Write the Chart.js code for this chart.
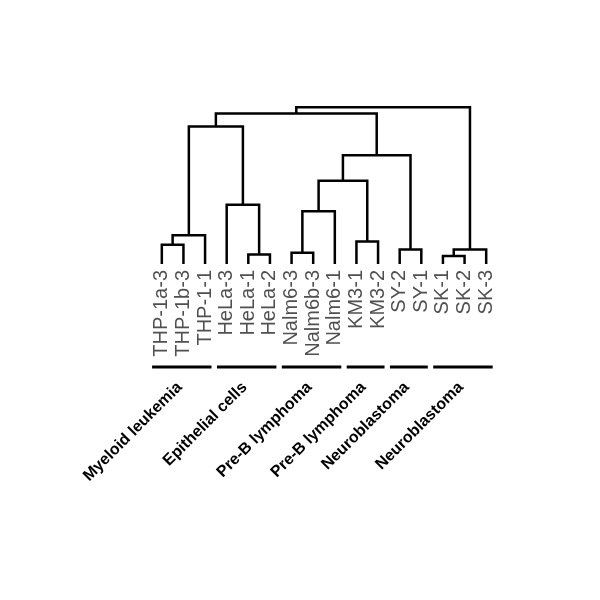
<!DOCTYPE html>
<html>
<head>
<meta charset="utf-8">
<script src="https://cdn.jsdelivr.net/npm/chart.js@4"></script>
<style>
  html, body { margin: 0; padding: 0; background: #fff; }
  canvas { display: block; }
</style>
</head>
<body>
<canvas id="dendro" width="600" height="600"></canvas>
<script>
// leaves, left to right
const leafLabels = ['THP-1a-3','THP-1b-3','THP-1-1','HeLa-3','HeLa-1','HeLa-2',
                    'Nalm6-3','Nalm6b-3','Nalm6-1','KM3-1','KM3-2','SY-2','SY-1',
                    'SK-1','SK-2','SK-3'];

// merges, R hclust style: negative = leaf -(i+1), positive = earlier merge (1-based)
const mergeLeft   = [-14, -5, -7, -12,   1, -1, -10,    6,    3,  -4,    9,   11,    8,   13,   14];
const mergeRight  = [-15, -6, -8, -13, -16, -2, -11,   -3,   -9,   2,    7,    4,   10,   12,    5];
const mergeHeight = [0.05,0.06,0.07,0.09,0.09,0.12,0.14,0.18,0.33,0.37,0.52,0.68,0.86,0.94,0.98];

// sample groups under the tree
const groupLabels = ['Myeloid leukemia','Epithelial cells','Pre-B lymphoma','Pre-B lymphoma','Neuroblastoma','Neuroblastoma'];
const groupStart  = [0, 3, 6,  9, 11, 13];
const groupEnd    = [2, 5, 8, 10, 12, 15];

//─── build segments ─────────────────────────────────────────────────────────
const nodeX = [], nodeH = [];
function pos(ref) {
  return ref < 0 ? { x: -ref - 1, h: 0 } : { x: nodeX[ref - 1], h: nodeH[ref - 1] };
}
const datasets = mergeHeight.map((h, i) => {
  const a = pos(mergeLeft[i]), b = pos(mergeRight[i]);
  nodeX[i] = (a.x + b.x) / 2;
  nodeH[i] = h;
  return {
    data: [{ x: a.x, y: a.h }, { x: a.x, y: h }, { x: b.x, y: h }, { x: b.x, y: b.h }],
    showLine: true,
    borderColor: '#000',
    borderWidth: 2.5,
    borderJoinStyle: 'miter',
    pointRadius: 0,
    clip: false
  };
});

//─── group bars + labels ────────────────────────────────────────────────────
const groupPlugin = {
  id: 'groups',
  afterDraw(chart) {
    const ctx = chart.ctx, xs = chart.scales.x;
    ctx.save();
    groupLabels.forEach((lab, i) => {
      const x0 = xs.getPixelForValue(groupStart[i] - 0.45);
      const x1 = xs.getPixelForValue(groupEnd[i] + 0.3);
      ctx.strokeStyle = '#000';
      ctx.lineWidth = 3;
      ctx.beginPath();
      ctx.moveTo(x0, 367);
      ctx.lineTo(x1, 367);
      ctx.stroke();

      ctx.save();
      ctx.translate((x0 + x1) / 2 + 1, 388);
      ctx.rotate(-Math.PI / 4);
      ctx.font = 'bold 16px "Liberation Sans", Arial, sans-serif';
      ctx.fillStyle = '#000';
      ctx.textAlign = 'right';
      ctx.textBaseline = 'alphabetic';
      ctx.fillText(lab, 0, 0);
      ctx.restore();
    });
    ctx.restore();
  }
};

new Chart(document.getElementById('dendro'), {
  type: 'scatter',
  data: { datasets },
  plugins: [groupPlugin],
  options: {
    responsive: false,
    animation: false,
    layout: { padding: { left: 151, right: 103, top: 104, bottom: 236 } },
    plugins: { legend: { display: false }, tooltip: { enabled: false } },
    scales: {
      x: {
        type: 'linear',
        min: -0.5,
        max: leafLabels.length - 0.5,
        border: { display: false },
        grid: { display: false, drawTicks: false },
        afterBuildTicks: s => { s.ticks = leafLabels.map((_, i) => ({ value: i })); },
        afterFit: s => { s.height = 100; },
        ticks: {
          autoSkip: false,
          minRotation: 90,
          maxRotation: 90,
          padding: 6,
          color: '#505050',
          font: { family: '"Liberation Sans", Arial, sans-serif', size: 20 },
          callback: (v, i) => leafLabels[i]
        }
      },
      y: { display: false, min: 0, max: 1 }
    }
  }
});
</script>
</body>
</html>
